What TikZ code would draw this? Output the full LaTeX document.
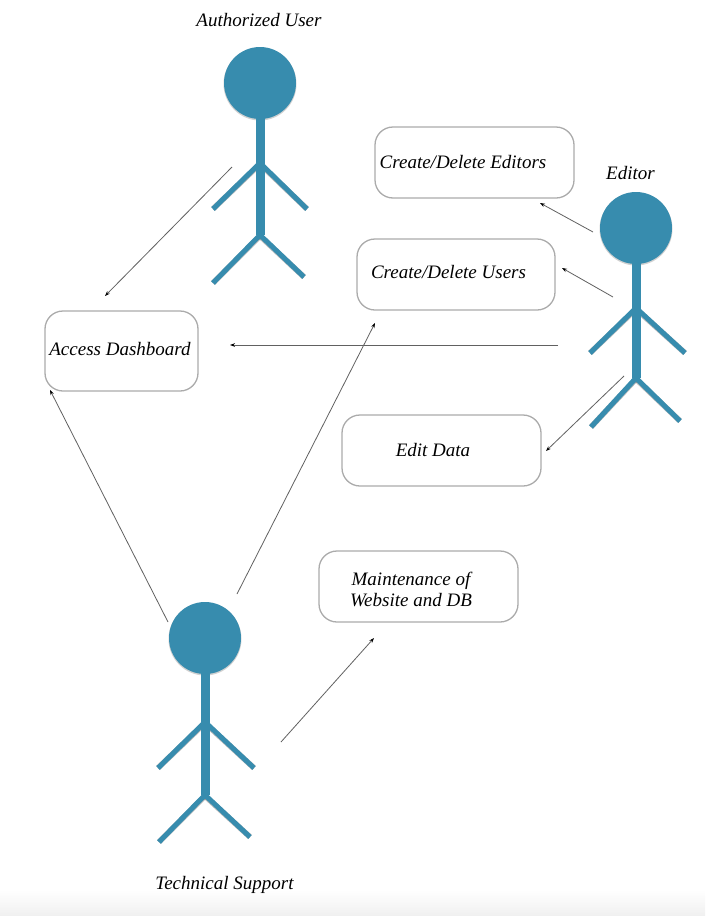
\documentclass[tikz,border=0pt]{standalone}
\usepackage{fontspec}
\setmainfont{Liberation Serif}
\usetikzlibrary{arrows.meta}
\definecolor{actorblue}{HTML}{378CAE}
\definecolor{boxedge}{HTML}{ABABAB}
\tikzset{
  x=1pt,y=-1pt,
  usecase/.style={draw=boxedge,line width=1.3pt,rounded corners=18pt,fill=white,inner sep=0pt},
  lbl/.style={font=\itshape\fontsize{19}{21}\selectfont,text=black,inner sep=0pt,align=center},
  head/.style={circle,fill=actorblue,minimum size=72pt,inner sep=0pt},
  headshadow/.style={circle,fill=black,opacity=0.18,minimum size=73pt,inner sep=0pt},
  limb/.style={draw=actorblue,line width=5pt},
  spine/.style={draw=actorblue,line width=9pt},
  limbshadow/.style={draw=black,opacity=0.28,line width=5.6pt},
  flow/.style={draw=black!62,line width=0.8pt,-{Stealth[length=5pt,width=3.6pt,color=black]}},
}
\newcommand{\stickfigure}[9]{%
  % #1 name, #2 head x, #3 head y, #4 arm y, #5 hip y, #6 left arm, #7 right arm, #8 left leg, #9 right leg
  \coordinate (#1arm) at (#2,#4);
  \coordinate (#1hip) at (#2,#5);
  \node[headshadow] at (#2,#3+1) {};
  \draw[limbshadow] (#2,#4+1) -- (#6);
  \draw[limbshadow] (#2,#4+1) -- (#7);
  \draw[limbshadow] (#2,#5+1) -- (#8);
  \draw[limbshadow] (#2,#5+1) -- (#9);
  \draw[limb] (#1arm) -- (#6);
  \draw[limb] (#1arm) -- (#7);
  \draw[limb] (#1hip) -- (#8);
  \draw[limb] (#1hip) -- (#9);
  \node[head] (#1head) at (#2,#3) {};
  \draw[spine] (#1head.center) -- (#1hip);
}
\begin{document}
\begin{tikzpicture}
\useasboundingbox (0,0) rectangle (705,916);
\fill[white] (0,0) rectangle (705,916);
\shade[top color=white,bottom color=black!6] (0,890) rectangle (705,916);

% use-case boxes
\node[usecase,minimum width=199pt,minimum height=71pt] (editors) at (474.5,162.5) {};
\node[usecase,minimum width=198pt,minimum height=71pt] (users) at (456,274.5) {};
\node[usecase,minimum width=153pt,minimum height=80pt] (dash) at (121.5,351) {};
\node[usecase,minimum width=199pt,minimum height=71pt] (edit) at (441.5,450.5) {};
\node[usecase,minimum width=199pt,minimum height=71pt] (maint) at (418.5,586.5) {};

\node[lbl] (editorstxt) at (463,162) {Create/Delete Editors};
\node[lbl] (userstxt) at (448.5,272) {Create/Delete Users};
\node[lbl] (dashtxt) at (120,349) {Access Dashboard};
\node[lbl] (edittxt) at (433,450) {Edit Data};
\node[lbl] (mainttxt) at (411,589) {Maintenance of\\Website and DB};

% actors
\stickfigure{au}{260}{83}{163}{235}{213,209}{307,209}{213,283}{304,277}
\stickfigure{ed}{636}{228}{308}{378}{590,353}{685,353}{591,427}{680,421}
\stickfigure{ts}{205}{638}{722}{795}{158,768}{254,768}{159,842}{250,837}

\node[lbl] (aulbl) at (259,20) {Authorized User};
\node[lbl] (edlbl) at (630.5,173) {Editor};
\node[lbl] (tslbl) at (224.5,884.5) {Technical Support};

% connector end points
\coordinate (a1s) at (232,167); \coordinate (a1e) at (105,296);
\coordinate (a2s) at (593,232); \coordinate (a2e) at (540,203);
\coordinate (a3s) at (613,297); \coordinate (a3e) at (562,268);
\coordinate (a4s) at (558,345); \coordinate (a4e) at (230,345);
\coordinate (a5s) at (624,376); \coordinate (a5e) at (546,451);
\coordinate (a6s) at (168,622); \coordinate (a6e) at (50,390);
\coordinate (a7s) at (237,594); \coordinate (a7e) at (375,323);
\coordinate (a8s) at (281,742); \coordinate (a8e) at (374,638);

\draw[flow] (a1s) -- (a1e);
\draw[flow] (a2s) -- (a2e);
\draw[flow] (a3s) -- (a3e);
\draw[flow] (a4s) -- (a4e);
\draw[flow] (a5s) -- (a5e);
\draw[flow] (a6s) -- (a6e);
\draw[flow] (a7s) -- (a7e);
\draw[flow] (a8s) -- (a8e);
\end{tikzpicture}
\end{document}
